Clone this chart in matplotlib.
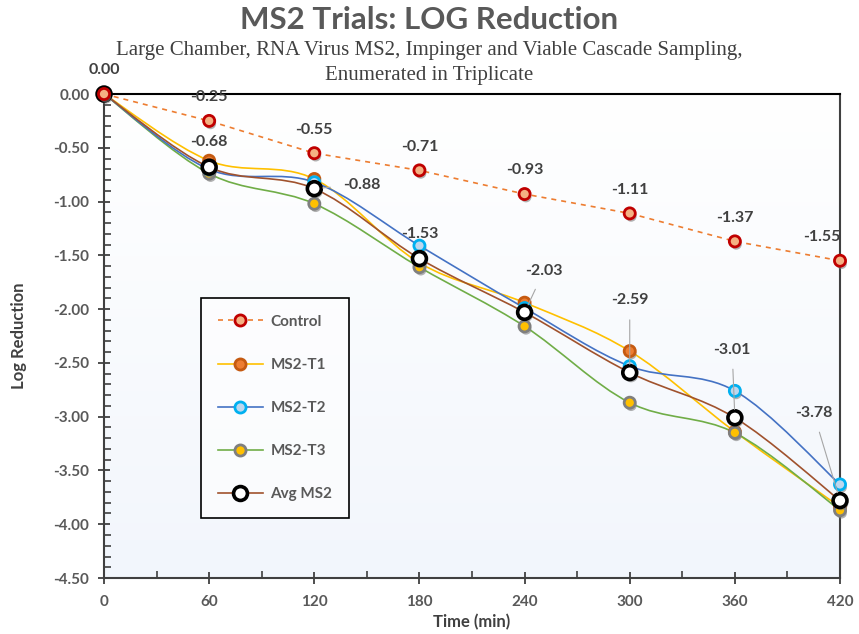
import numpy as np
import matplotlib
matplotlib.use("Agg")
import matplotlib.pyplot as plt
from matplotlib.path import Path
from matplotlib.patches import PathPatch
from matplotlib.lines import Line2D
import matplotlib.patheffects as pe
from matplotlib.ticker import MultipleLocator

# data
time = [0, 60, 120, 180, 240, 300, 360, 420]
control = [0.00, -0.25, -0.55, -0.71, -0.93, -1.11, -1.37, -1.55]
ms2_t1 = [0.00, -0.62, -0.79, -1.57, -1.94, -2.39, -3.14, -3.84]
ms2_t2 = [0.00, -0.70, -0.82, -1.41, -1.99, -2.53, -2.76, -3.63]
ms2_t3 = [0.00, -0.74, -1.02, -1.61, -2.16, -2.87, -3.15, -3.87]
avg_ms2 = [0.00, -0.68, -0.88, -1.53, -2.03, -2.59, -3.01, -3.78]

avg_labels = ["-0.68", "-0.88", "-1.53", "-2.03", "-2.59", "-3.01", "-3.78"]

plt.rcParams['font.family'] = ['Lato', 'DejaVu Sans']

fig = plt.figure(figsize=(8.59, 6.34), dpi=100)
ax = fig.add_axes([0.1211, 0.0883, 0.8568, 0.7634])
ax.set_xlim(0, 420)
ax.set_ylim(-4.5, 0)

# soft gradient background
grad = np.linspace(0, 1, 256).reshape(-1, 1)
cmap = matplotlib.colors.LinearSegmentedColormap.from_list('bg', ['#FFFFFF', '#F2F6FC'])
ax.imshow(grad, extent=[0, 1, 0, 1], transform=ax.transAxes, aspect='auto',
          cmap=cmap, zorder=0)


def smooth_path(xs, ys):
    # excel-like smoothed line: catmull-rom turned into bezier segments
    pts = np.column_stack([xs, ys]).astype(float)
    n = len(pts)
    verts = [pts[0]]
    codes = [Path.MOVETO]
    for i in range(n - 1):
        p0 = pts[i - 1] if i > 0 else pts[i]
        p1 = pts[i]
        p2 = pts[i + 1]
        p3 = pts[i + 2] if i + 2 < n else pts[i + 1]
        c1 = p1 + (p2 - p0) / 6.0
        c2 = p2 - (p3 - p1) / 6.0
        verts += [c1, c2, p2]
        codes += [Path.CURVE4] * 3
    return Path(verts, codes)


shadow = [pe.SimplePatchShadow(offset=(1, -2), shadow_rgbFace='#808080', alpha=0.6), pe.Normal()]

series = [
    ("MS2-T1", ms2_t1, '#FFC000', '#ED7D31', '#C55A11', 8, 2.0, 3),
    ("MS2-T2", ms2_t2, '#4472C4', '#BDD7EE', '#00B0F0', 8, 2.0, 4),
    ("MS2-T3", ms2_t3, '#70AD47', '#FFC000', '#7F7F7F', 8, 2.0, 3.5),
    ("Avg MS2", avg_ms2, '#A0522D', '#FFFFFF', '#000000', 10, 2.6, 5),
]

handles = []
h = Line2D([], [], color='#ED7D31', ls=(0, (3, 3)), lw=1.2, marker='o', ms=8,
           mfc='#F4B183', mec='#C00000', mew=2)
handles.append((h, "Control"))

for name, vals, lc, fc, ec, ms, mew, z in series:
    patch = PathPatch(smooth_path(time, vals), facecolor='none', edgecolor=lc, lw=1.2, zorder=z)
    ax.add_patch(patch)
    ax.plot(time, vals, ls='none', marker='o', ms=ms, mfc=fc, mec=ec, mew=mew,
            zorder=z + 2, path_effects=shadow, clip_on=False)
    handles.append((Line2D([], [], color=lc, lw=1.2, marker='o', ms=ms, mfc=fc, mec=ec, mew=mew), name))

ax.plot(time, control, color='#ED7D31', ls=(0, (3, 3)), lw=1.2, zorder=8)
ax.plot(time, control, ls='none', marker='o', ms=8, mfc='#F4B183', mec='#C00000', mew=2,
        zorder=9, path_effects=shadow, clip_on=False)

lab_kw = dict(fontsize=11.5, fontweight='bold', color='#404040', ha='center', va='center')

# control labels above the points, last one pulled back inside the chart
for i, (t, v) in enumerate(zip(time, control)):
    dx = -13 if i == len(time) - 1 else 0
    ax.annotate(f"{v:.2f}", (t, v), xytext=(dx, 17), textcoords='offset points', **lab_kw)

# avg labels, some with leader lines
avg_offsets = [(0, 18), (34, 3), (0, 18), (14, 30), (0, 52), (-2, 49), (-19, 63)]
for (t, v), lab, off in zip(list(zip(time, avg_ms2))[1:], avg_labels, avg_offsets):
    leader = abs(off[0]) > 5 or off[1] > 25
    if leader:
        ax.annotate(lab, (t, v), xytext=off, textcoords='offset points', zorder=10,
                    arrowprops=dict(arrowstyle='-', color='#A6A6A6', lw=0.8,
                                    shrinkA=7, shrinkB=6), **lab_kw)
    else:
        ax.annotate(lab, (t, v), xytext=off, textcoords='offset points', zorder=10, **lab_kw)

# axes styling
for side in ['left', 'bottom', 'top', 'right']:
    ax.spines[side].set_color('#404040')
    ax.spines[side].set_linewidth(1.5)
ax.spines['top'].set_color('#000000')
ax.xaxis.set_major_locator(MultipleLocator(60))
ax.xaxis.set_minor_locator(MultipleLocator(30))
ax.yaxis.set_major_locator(MultipleLocator(0.5))
ax.yaxis.set_minor_locator(MultipleLocator(0.1))
ax.tick_params(which='major', direction='inout', length=9, width=1.3, color='#404040',
               labelsize=11, labelcolor='#595959')
ax.tick_params(which='minor', direction='in', length=5, width=1.2, color='#404040')
ax.tick_params(axis='x', pad=8)
ax.tick_params(axis='y', pad=6)
ax.set_yticklabels([f"{v:.2f}" for v in ax.get_yticks()], fontweight='bold')
ax.set_xticklabels([f"{int(v)}" for v in ax.get_xticks()], fontweight='bold')

ax.set_xlabel("Time (min)", fontsize=12, fontweight='bold', color='#404040', labelpad=3)
ax.set_ylabel("Log Reduction", fontsize=12, fontweight='bold', color='#404040', labelpad=19)

fig.text(0.5, 0.9690, "MS2 Trials: LOG Reduction", ha='center', va='center',
         fontsize=22.5, fontweight='bold', color='#595959')
sub_kw = dict(ha='center', va='center', fontsize=15, color='#404040', family='Liberation Serif')
fig.text(0.5, 0.9211, "Large Chamber, RNA Virus MS2, Impinger and Viable Cascade Sampling,", **sub_kw)
fig.text(0.5, 0.8817, "Enumerated in Triplicate", **sub_kw)

leg = ax.legend([h for h, _ in handles], [n for _, n in handles], loc='upper left',
                bbox_to_anchor=(0.1318, 0.5785), frameon=True, fancybox=False,
                labelspacing=1.9, handlelength=2.95, borderpad=1.1, borderaxespad=0,
                handletextpad=0.5, prop=dict(size=11, weight='bold'))
frame = leg.get_frame()
frame.set_alpha(None)
frame.set_facecolor((1, 1, 1, 0.6))
frame.set_edgecolor('#000000')
frame.set_linewidth(1.2)
for t in leg.get_texts():
    t.set_color('#595959')
leg.set_zorder(12)

fig.savefig("out.png", dpi=100)
